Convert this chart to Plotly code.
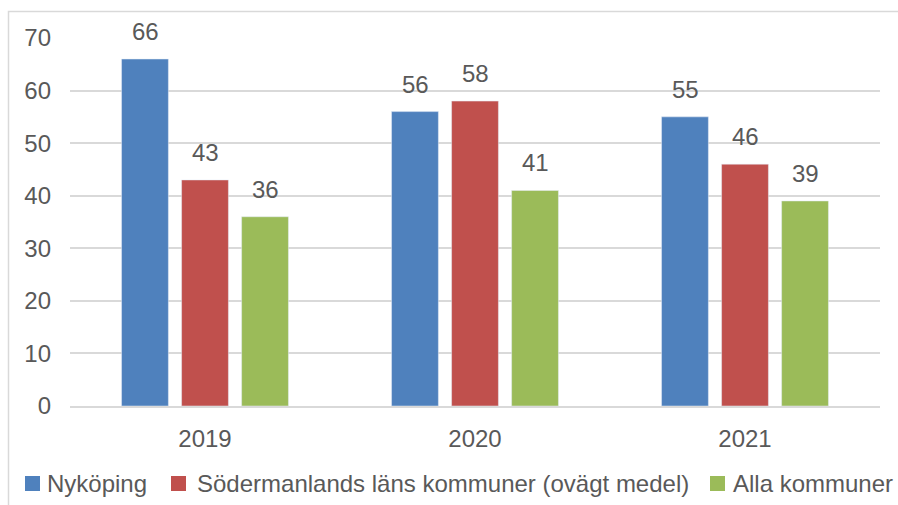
import plotly.graph_objects as go

years = ["2019", "2020", "2021"]
series_names = ["Nyköping", "Södermanlands läns kommuner (ovägt medel)", "Alla kommuner"]
nykoping = [66, 56, 55]
sodermanland = [43, 58, 46]
alla = [36, 41, 39]
colors = ["#4F81BD", "#C0504D", "#9BBB59"]
y_ticks = [0, 10, 20, 30, 40, 50, 60, 70]

W, H = 898, 505
# plot area in pixels: x 70..880, y 38..406
L, T = 70, 38
R = W - 880
B = H - 406
PW, PH = W - L - R, H - T - B

def px(x):
    return (x - L) / PW

def py(y):
    return (H - B - y) / PH

TXT = "#595959"
FONT = "Liberation Sans, Arial, sans-serif"

fig = go.Figure()
all_vals = [nykoping, sodermanland, alla]
for name, vals, c in zip(series_names, all_vals, colors):
    fig.add_trace(go.Bar(x=years, y=vals, name=name, marker_color=c, showlegend=False,
                         hoverinfo="skip"))

annotations = []
for i, vals in enumerate(all_vals):
    for j, v in enumerate(vals):
        annotations.append(dict(x=j, y=v, xref="x", yref="y", text=str(v), showarrow=False,
                                xanchor="center", yanchor="bottom", xshift=(i - 1) * 60, yshift=12,
                                font=dict(size=24, color=TXT, family=FONT)))

# custom legend
legend_pos = [(25, 45), (171, 195), (710, 731)]
shapes = [dict(type="rect", xref="paper", yref="paper",
               x0=px(8.5), x1=px(910), y0=py(515), y1=py(11.5),
               line=dict(color="#D9D9D9", width=1.5), layer="below")]
for (sx, tx), name, c in zip(legend_pos, series_names, colors):
    shapes.append(dict(type="rect", xref="paper", yref="paper",
                       x0=px(sx), x1=px(sx + 15), y0=py(491), y1=py(476),
                       fillcolor=c, line=dict(width=0)))
    annotations.append(dict(x=px(tx), y=py(483), xref="paper", yref="paper", text=name,
                            showarrow=False, xanchor="left", yanchor="middle",
                            font=dict(size=24, color=TXT, family=FONT)))

fig.update_layout(
    width=W, height=H,
    margin=dict(l=L, r=R, t=T, b=B),
    paper_bgcolor="white", plot_bgcolor="white",
    font=dict(family=FONT, size=24, color=TXT),
    barmode="group", bargap=0.333, bargroupgap=0.22,
    showlegend=False,
    xaxis=dict(type="category", showgrid=False, showline=True, linecolor="#D9D9D9", linewidth=1.5,
               ticks="", tickfont=dict(size=24, color=TXT), automargin=False,
               ticklabelstandoff=10),
    yaxis=dict(range=[0, 70], tickvals=y_ticks, showgrid=True, gridcolor="#D9D9D9",
               gridwidth=1.5, zeroline=False, ticks="", tickfont=dict(size=24, color=TXT),
               automargin=False, ticklabelstandoff=18),
    shapes=shapes,
    annotations=annotations,
)
fig.write_html("out.html", config={"displayModeBar": False},
               post_script="document.body.style.margin='0';document.body.style.overflow='hidden';")
